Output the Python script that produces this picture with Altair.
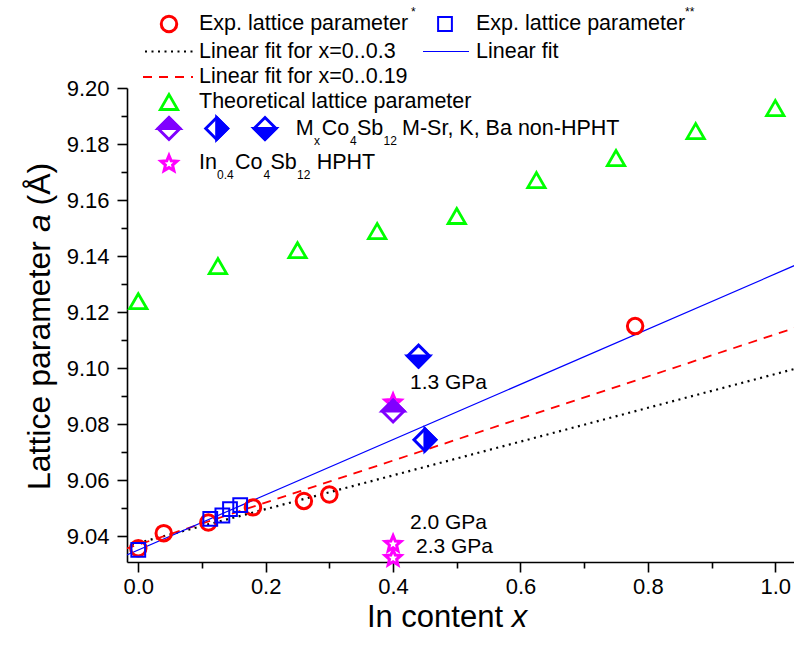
import math
import altair as alt
import pandas as pd

# ---------------- data ----------------
circ_x = [0.0, 0.04, 0.11, 0.18, 0.26, 0.30, 0.78]
circ_y = [9.0357, 9.0411, 9.0449, 9.0503, 9.0526, 9.0549, 9.1150]

sq_x = [0.0, 0.113, 0.132, 0.144, 0.16]
sq_y = [9.0351, 9.0462, 9.0474, 9.0497, 9.0511]

tri_x = [0.0, 0.125, 0.25, 0.375, 0.5, 0.625, 0.75, 0.875, 1.0]
tri_y = [9.1239, 9.1364, 9.1421, 9.1489, 9.1543, 9.1671, 9.1750, 9.1846, 9.1928]

fit_x = [-0.02, 1.03]
fit_all_y = [9.0331, 9.1366]
fit_019_y = [9.0355, 9.1143]
fit_03_y = [9.0364, 9.0997]

dia_x = [0.40, 0.45, 0.44]
dia_y = [9.0847, 9.0744, 9.1043]
dia_half = ["top", "right", "bottom"]

star_x = [0.40, 0.40, 0.40]
star_y = [9.0880, 9.0375, 9.0325]

note_x = [0.4265, 0.4265, 0.436]
note_y = [9.0948, 9.0447, 9.0362]
note_text = ["1.3 GPa", "2.0 GPa", "2.3 GPa"]

x_ticks = [0.0, 0.1, 0.2, 0.3, 0.4, 0.5, 0.6, 0.7, 0.8, 0.9, 1.0]
y_ticks = [9.04, 9.05, 9.06, 9.07, 9.08, 9.09, 9.10, 9.11, 9.12,
           9.13, 9.14, 9.15, 9.16, 9.17, 9.18, 9.19, 9.20]

# ---------------- styles / layout ----------------
FONT = "Liberation Sans"
RED, BLUE, GREEN, MAG, PURPLE = "#ff0000", "#0000ff", "#00ff00", "#ff00ff", "#8000ff"
dia_color = [PURPLE, BLUE, BLUE]
HALF_PATH = {"top": "M-1,0L0,-1L1,0Z", "right": "M0,-1L1,0L0,1Z",
             "bottom": "M-1,0L1,0L0,1Z", "left": "M0,-1L-1,0L0,1Z"}


def star_path(r_in=0.45):
    pts = []
    for i in range(10):
        a = -math.pi / 2 + i * math.pi / 5
        r = 1.0 if i % 2 == 0 else r_in
        pts.append(f"{r * math.cos(a):.3f},{r * math.sin(a) + 0.1:.3f}")
    return "M" + "L".join(pts) + "Z"


STAR = star_path()
PL, PT, W, H = 127, 88, 667, 474
XDOM = [-0.0177, 1.0294]
YDOM = [9.0308, 9.20]

SZ_CIRC, SZ_SQ, SZ_TRI, SZ_DIA, SZ_STAR = 240, 190, 300, 480, 280

TICK_X = "round(datum.value*10) % 2 === 0"
TICK_Y = "round(datum.value*100) % 2 === 0"

x_axis = alt.Axis(values=x_ticks, title=None, grid=False,
                  labelExpr=f"{TICK_X} ? format(datum.value, '.1f') : ''",
                  tickSize={"condition": {"test": TICK_X, "value": 10}, "value": 6},
                  labelPadding=4, labelOverlap=False, labelFlush=False)
y_axis = alt.Axis(values=y_ticks, title=None, grid=False,
                  labelExpr=f"{TICK_Y} ? format(datum.value, '.2f') : ''",
                  tickSize={"condition": {"test": TICK_Y, "value": 10}, "value": 6},
                  labelPadding=8, labelOverlap=False, labelFlush=False)


def X(field="x"):
    return alt.X(f"{field}:Q", scale=alt.Scale(domain=XDOM, nice=False, zero=False), axis=x_axis)


def Y(field="y"):
    return alt.Y(f"{field}:Q", scale=alt.Scale(domain=YDOM, nice=False, zero=False), axis=y_axis)


def pix(px, py):
    return dict(x=alt.value(px - PL), y=alt.value(py - PT))


layers = []

# fit lines
for ys, col, dash, sw in [(fit_03_y, "black", [2, 4.5], 2.2),
                          (fit_019_y, RED, [9, 7], 1.8),
                          (fit_all_y, BLUE, None, 1.2)]:
    df = pd.DataFrame({"x": fit_x, "y": ys})
    kw = dict(color=col, strokeWidth=sw, clip=True)
    if dash:
        kw["strokeDash"] = dash
    layers.append(alt.Chart(df).mark_line(**kw).encode(x=X(), y=Y()))

# theoretical triangles
layers.append(alt.Chart(pd.DataFrame({"x": tri_x, "y": tri_y})).mark_point(
    shape="triangle-up", size=SZ_TRI, color=GREEN, strokeWidth=2.8, opacity=1, filled=False
).encode(x=X(), y=Y()))

# exp circles
layers.append(alt.Chart(pd.DataFrame({"x": circ_x, "y": circ_y})).mark_point(
    shape="circle", size=SZ_CIRC, color=RED, strokeWidth=3, opacity=1, filled=False
).encode(x=X(), y=Y()))

# exp squares
layers.append(alt.Chart(pd.DataFrame({"x": sq_x, "y": sq_y})).mark_point(
    shape="square", size=SZ_SQ, color=BLUE, strokeWidth=2, opacity=1, filled=False
).encode(x=X(), y=Y()))

# HPHT stars
layers.append(alt.Chart(pd.DataFrame({"x": star_x, "y": star_y})).mark_point(
    shape=STAR, size=SZ_STAR, stroke=MAG, fill="white", strokeWidth=3, opacity=1, filled=True,
    strokeJoin="miter"
).encode(x=X(), y=Y()))

# diamonds: outline + half fill
dia_df = pd.DataFrame({"x": dia_x, "y": dia_y, "col": dia_color,
                       "path": [HALF_PATH[h] for h in dia_half]})
layers.append(alt.Chart(dia_df).mark_point(
    shape="diamond", size=SZ_DIA, strokeWidth=3, opacity=1, filled=True, strokeJoin="miter"
).encode(x=X(), y=Y(), fill=alt.value("white"), stroke=alt.Stroke("col:N", scale=None)))
layers.append(alt.Chart(dia_df).mark_point(
    size=SZ_DIA, strokeWidth=3, opacity=1, filled=True, strokeJoin="miter"
).encode(x=X(), y=Y(), shape=alt.Shape("path:N", scale=None),
         fill=alt.Fill("col:N", scale=None), stroke=alt.Stroke("col:N", scale=None)))

# pressure notes
layers.append(alt.Chart(pd.DataFrame({"x": note_x, "y": note_y, "t": note_text})).mark_text(
    align="left", baseline="middle", font=FONT, fontSize=21, color="black"
).encode(x=X(), y=Y(), text="t:N"))

# ---------------- legend (manual) ----------------
LEG_FS, SUB_FS = 21.5, 12


def txt(s, px, py, fs=LEG_FS, style="normal", align="left", angle=0):
    kw = dict(align=align, baseline="middle", font=FONT, fontSize=fs, fontStyle=style, color="black")
    if angle:
        kw["angle"] = angle
    return alt.Chart().mark_text(**kw).encode(text=alt.value(s), **pix(px, py))


def sym(shape, px, py, size, stroke, fill=None, sw=2.5):
    kw = dict(shape=shape, size=size, stroke=stroke, strokeWidth=sw, opacity=1, strokeJoin="miter")
    if fill:
        kw.update(filled=True, fill=fill)
    else:
        kw.update(filled=False, color=stroke)
    return alt.Chart().mark_point(**kw).encode(**pix(px, py))


def seg(x1, x2, py, col, dash, sw):
    kw = dict(color=col, strokeWidth=sw)
    if dash:
        kw["strokeDash"] = dash
    return alt.Chart().mark_rule(**kw).encode(x=alt.value(x1 - PL), x2=alt.value(x2 - PL),
                                              y=alt.value(py - PT))


R1, R2, R3, R4, R5, R6 = 24, 51.5, 77, 102, 128.5, 163
layers += [
    sym("circle", 169, R1, SZ_CIRC, RED, sw=3),
    txt("Exp. lattice parameter", 199, R1), txt("*", 411, 12, fs=SUB_FS),
    sym("square", 445, R1, SZ_SQ, BLUE, sw=2),
    txt("Exp. lattice parameter", 476, R1), txt("**", 685, 12, fs=SUB_FS),
    seg(145, 193, R2, "black", [2, 4.5], 2.2), txt("Linear fit for x=0..0.3", 199, R2),
    seg(423, 469, R2, BLUE, None, 1.2), txt("Linear fit", 476, R2),
    seg(143, 193, R3, RED, [9, 7], 1.8), txt("Linear fit for x=0..0.19", 199, R3),
    sym("triangle-up", 169, R4, SZ_TRI, GREEN, sw=2.8), txt("Theoretical lattice parameter", 199, R4),
]
for px, half, col in [(169, "top", PURPLE), (216.7, "right", BLUE), (265, "bottom", BLUE)]:
    layers.append(sym("diamond", px, R5, SZ_DIA, col, fill="white", sw=3))
    layers.append(sym(HALF_PATH[half], px, R5, SZ_DIA, col, fill=col, sw=3))
layers += [
    txt("M", 295.7, R5), txt("x", 314, R5 + 12, fs=SUB_FS),
    txt("Co", 321.7, R5), txt("4", 350, R5 + 12, fs=SUB_FS),
    txt("Sb", 357, R5), txt("12", 383.5, R5 + 12, fs=SUB_FS),
    txt("M-Sr, K, Ba non-HPHT", 402, R5),
    sym(STAR, 169, R6, SZ_STAR, MAG, fill="white", sw=3),
    txt("In", 199, R6), txt("0.4", 217, R6 + 12, fs=SUB_FS),
    txt("Co", 235, R6), txt("4", 263.5, R6 + 12, fs=SUB_FS),
    txt("Sb", 270.5, R6), txt("12", 297, R6 + 12, fs=SUB_FS),
    txt("HPHT", 316.7, R6),
]

# ---------------- axis titles ----------------
layers += [
    txt("In content", 366.9, 618, fs=31), txt("x", 511.7, 618, fs=31, style="italic"),
    txt("Lattice parameter", 40, 490, fs=32, angle=270),
    txt("a", 40, 232.1, fs=32, style="italic", angle=270),
    txt("(Å)", 40, 205.4, fs=32, angle=270),
]

chart = alt.layer(*layers, data=pd.DataFrame({"k": [0]})).properties(
    width=W, height=H,
    padding={"left": PL, "top": PT, "right": 0, "bottom": 653 - PT - H},
    autosize=alt.AutoSizeParams(type="none"),
    background="white",
).configure_view(stroke=None).configure_axis(
    labelFont=FONT, labelFontSize=22, labelColor="black",
    domainColor="black", domainWidth=1.6, tickColor="black", tickWidth=1.6,
)

chart.save("out.html", embed_options={"renderer": "svg", "actions": False})
